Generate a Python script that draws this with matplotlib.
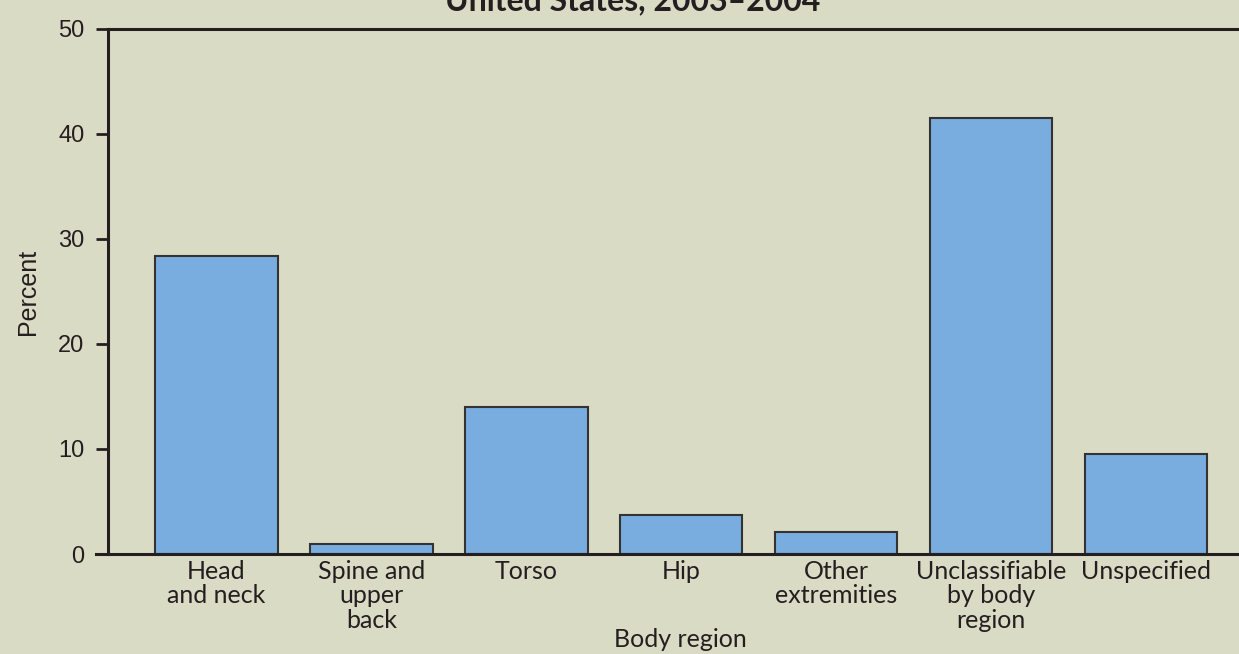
import matplotlib
matplotlib.use("Agg")
import matplotlib.pyplot as plt
import numpy as np

regions = ["Head\nand neck", "Spine and\nupper\nback", "Torso", "Hip",
           "Other\nextremities", "Unclassifiable\nby body\nregion", "Unspecified"]
percent = [28.4, 1.0, 14.0, 3.7, 2.1, 41.5, 9.5]
yticks = [0, 10, 20, 30, 40, 50]

bg = "#dadbc4"
bar_color = "#7aaddf"
ink = "#231f20"

fig = plt.figure(figsize=(12.39, 6.54), dpi=100, facecolor=bg)
ax = fig.add_axes([0.0872, 0.1529, 0.9128, 0.8028], facecolor=bg)

x = np.arange(len(regions))
ax.bar(x, percent, width=0.79, color=bar_color, edgecolor="#333333", linewidth=1.5)

ax.set_xlim(-0.70, 6.6)
ax.set_ylim(0, 50)
ax.set_yticks(yticks)
ax.set_yticklabels([str(v) for v in yticks], fontsize=17, family="Liberation Sans", color=ink)
ax.set_xticks(x)
ax.set_xticklabels(regions, fontsize=18, family="Lato", color=ink, linespacing=1.08, va="top")

ax.tick_params(axis="y", length=9, width=2, color=ink, pad=8)
ax.tick_params(axis="x", length=0, pad=4)

for s in ["left", "bottom", "top"]:
    ax.spines[s].set_linewidth(2.2)
    ax.spines[s].set_color(ink)
ax.spines["right"].set_visible(False)
ax.spines["bottom"].set_bounds(-0.78, 6.6)

ax.set_ylabel("Percent", fontsize=18, family="Liberation Sans", color=ink, labelpad=13)
fig.text(0.549, 0.011, "Body region", fontsize=18, family="Lato", color=ink, ha="center", va="baseline")

fig.text(0.511, 1 - 10 / 654, "United States, 2003\u20132004", fontsize=23, family="Lato",
         fontweight="bold", color=ink, ha="center", va="baseline")

fig.savefig("out.png", dpi=100, facecolor=bg)
